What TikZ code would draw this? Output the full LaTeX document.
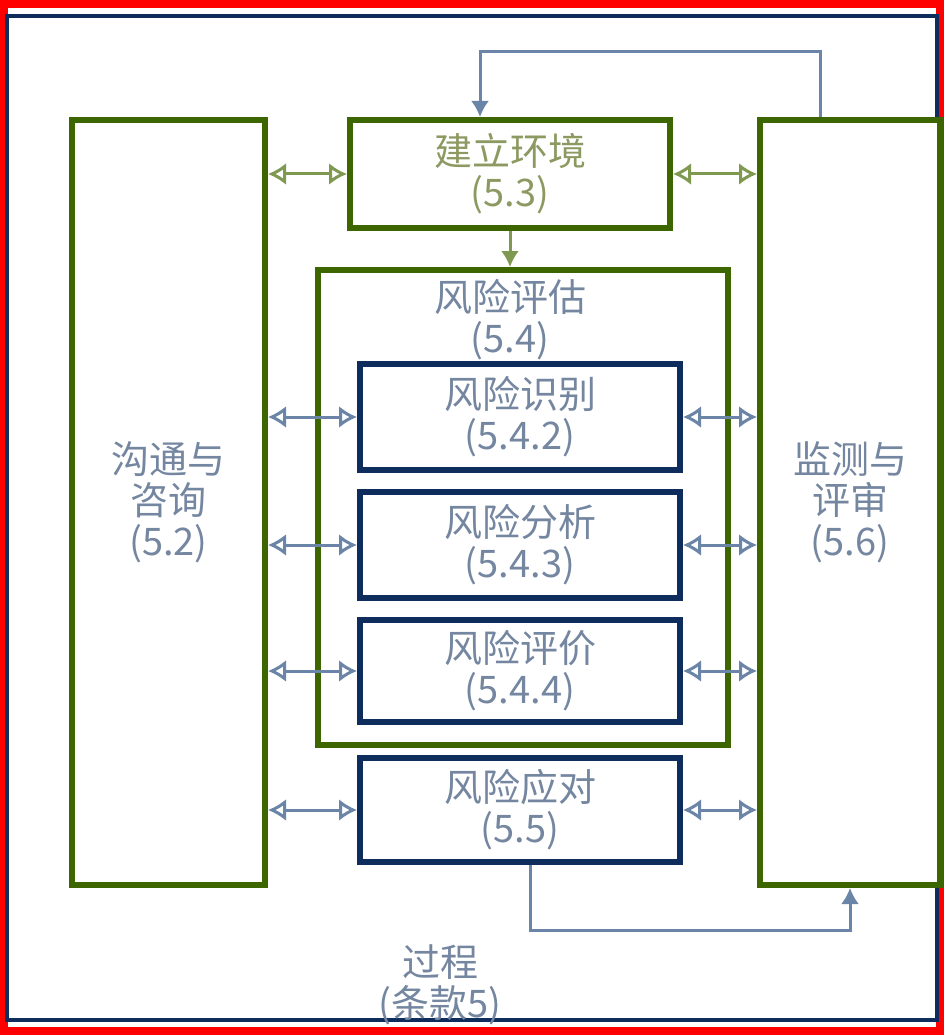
\documentclass[tikz,border=0pt]{standalone}
\usepackage{fontspec}
\newfontfamily\cjk{Noto Sans CJK SC}
\usetikzlibrary{arrows.meta}
\definecolor{grn}{HTML}{3D6600}
\definecolor{navy}{HTML}{0F2D5C}
\definecolor{gtext}{HTML}{8C9A62}
\definecolor{btext}{HTML}{7486A0}
\definecolor{arrb}{HTML}{6A85A8}
\definecolor{arrg}{HTML}{7F9A50}
\definecolor{frame}{HTML}{0F2D5C}
\begin{document}
\begin{tikzpicture}[x=1pt,y=-1pt,
  lbl/.style={font=\cjk\fontsize{38}{41}\selectfont, align=center, inner sep=0pt},
  gbox/.style={lbl, draw=grn, line width=6pt, fill=white, text=gtext},
  nbox/.style={lbl, draw=navy, line width=6pt, fill=white, text=btext},
  sidebox/.style={lbl, draw=grn, line width=6pt, fill=white, text=btext, minimum width=#1, minimum height=765pt},
  darrb/.style={{Latex[length=18pt,width=22pt,open]}-{Latex[length=18pt,width=22pt,open]}, line width=3pt, draw=arrb},
  darrg/.style={{Latex[length=18pt,width=22pt,open]}-{Latex[length=18pt,width=22pt,open]}, line width=3pt, draw=arrg},
  flow/.style={-{Latex[length=16pt,width=18pt]}, line width=3pt, draw=arrb},
  flowg/.style={-{Latex[length=16pt,width=18pt]}, line width=3pt, draw=arrg}
]
\useasboundingbox (0,0) rectangle (944,1035);
\fill[white] (0,0) rectangle (944,1035);
\draw[red, line width=8pt] (4,4) rectangle (940,1031);
% outer process frame
\node[draw=frame, line width=4pt, minimum width=930pt, minimum height=1003pt, inner sep=0pt] (proc) at (472,518) {};
\node[lbl, text=btext] (proclbl) at (440,985) {过程\\(条款5)};
% side boxes
\node[sidebox=193pt] (comm) at (168.5,502.5) {沟通与\\咨询\\(5.2)};
\node[sidebox=180pt] (mon) at (850,502.5) {监测与\\评审\\(5.6)};
% context
\node[gbox, minimum width=320pt, minimum height=108pt] (env) at (510,174) {建立环境\\(5.3)};
% assessment container
\node[gbox, minimum width=410pt, minimum height=475pt] (assess) at (523,507.5) {};
\node[lbl, text=btext] (assesslbl) at (510,320) {风险评估\\(5.4)};
\node[nbox, minimum width=320pt, minimum height=106pt] (ident) at (520,417) {风险识别\\(5.4.2)};
\node[nbox, minimum width=320pt, minimum height=106pt] (anal) at (520,545) {风险分析\\(5.4.3)};
\node[nbox, minimum width=320pt, minimum height=102pt] (eval) at (520,671) {风险评价\\(5.4.4)};
\node[nbox, minimum width=320pt, minimum height=104pt] (treat) at (520,810) {风险应对\\(5.5)};
% double arrows
\draw[darrg] (comm.east |- env.west) -- (env.west);
\draw[darrg] (env.east) -- (mon.west |- env.east);
\foreach \n in {ident,anal,eval,treat}{
  \draw[darrb] (comm.east |- \n.west) -- (\n.west);
  \draw[darrb] (\n.east) -- (mon.west |- \n.east);
}
% flow
\draw[flowg] (env.south) -- (env.south |- assess.north);
\coordinate (fbc) at (700,930);
\draw[flow] ([xshift=10pt]treat.south) |- (fbc) -| (mon.south);
\coordinate (topc) at (640,52);
\draw[flow] ([xshift=-30pt]mon.north) |- (topc) -| ([xshift=-30pt]env.north);
\end{tikzpicture}
\end{document}
